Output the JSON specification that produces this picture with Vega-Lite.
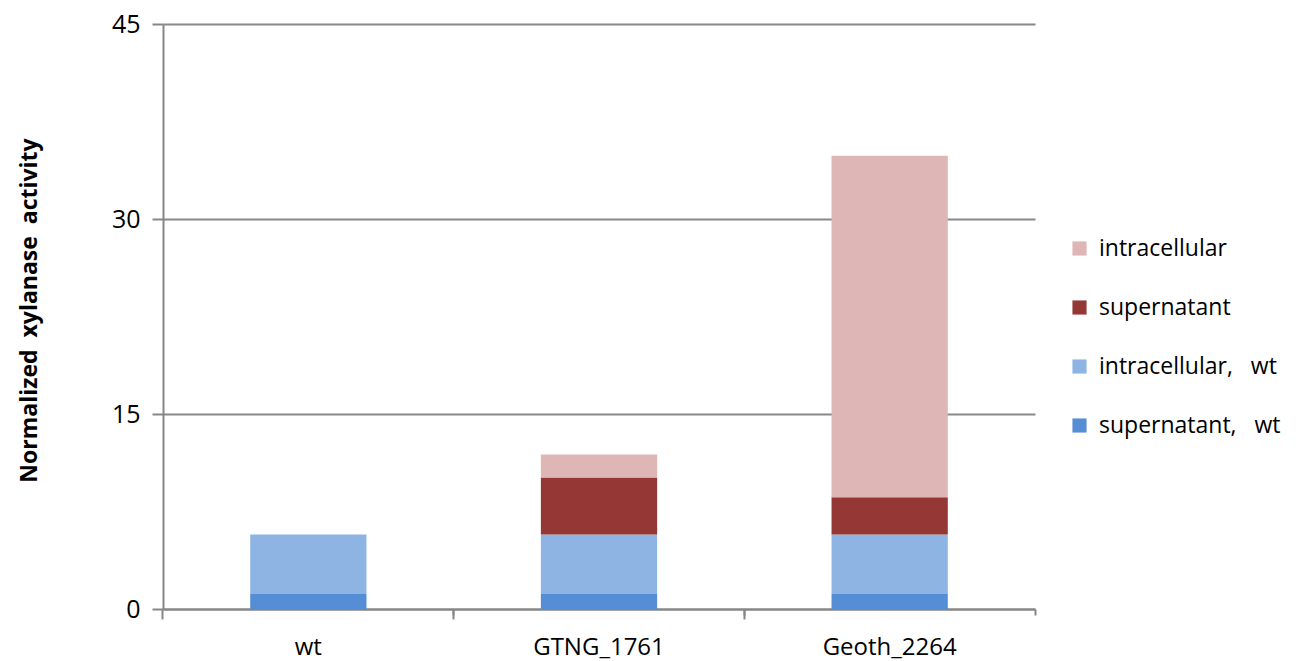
{
  "$schema": "https://vega.github.io/schema/vega-lite/v6.json",
  "width": 872,
  "height": 585,
  "autosize": "none",
  "padding": {"left": 163, "top": 24, "right": 268, "bottom": 52},
  "background": "white",
  "config": {
    "view": {"stroke": null},
    "font": "Open Sans"
  },
  "data": {
    "values": [
      {"strain": "wt", "component": "supernatant,\u00a0\u00a0 wt", "order": 1, "value": 1.15},
      {"strain": "wt", "component": "intracellular,\u00a0\u00a0 wt", "order": 2, "value": 4.59},
      {"strain": "GTNG_1761", "component": "supernatant,\u00a0\u00a0 wt", "order": 1, "value": 1.15},
      {"strain": "GTNG_1761", "component": "intracellular,\u00a0\u00a0 wt", "order": 2, "value": 4.59},
      {"strain": "GTNG_1761", "component": "supernatant", "order": 3, "value": 4.38},
      {"strain": "GTNG_1761", "component": "intracellular", "order": 4, "value": 1.77},
      {"strain": "Geoth_2264", "component": "supernatant,\u00a0\u00a0 wt", "order": 1, "value": 1.15},
      {"strain": "Geoth_2264", "component": "intracellular,\u00a0\u00a0 wt", "order": 2, "value": 4.59},
      {"strain": "Geoth_2264", "component": "supernatant", "order": 3, "value": 2.85},
      {"strain": "Geoth_2264", "component": "intracellular", "order": 4, "value": 26.28}
    ]
  },
  "resolve": {"axis": {"x": "independent"}},
  "layer": [
    {
      "mark": {"type": "bar"},
      "encoding": {
        "x": {
          "field": "strain", "type": "nominal",
          "sort": ["wt", "GTNG_1761", "Geoth_2264"],
          "scale": {"paddingInner": 0.6, "paddingOuter": 0.3},
          "axis": {
            "title": null, "labelAngle": 0, "labelFontSize": 24, "labelColor": "#000000",
            "labelPadding": 26, "ticks": false, "domain": true, "domainColor": "#868686", "domainWidth": 2
          }
        },
        "y": {
          "field": "value", "type": "quantitative", "stack": "zero",
          "scale": {"domain": [0, 45]},
          "axis": {
            "values": [0, 15, 30, 45],
            "title": "Normalized\u00a0 xylanase\u00a0 activity",
            "titleFontSize": 23, "titleFontWeight": "bold", "titleColor": "#000000",
            "titleX": -134, "titleY": 286, "titleAngle": -90, "titleAlign": "center", "titleBaseline": "middle",
            "labelFontSize": 25, "labelColor": "#000000", "labelPadding": 12,
            "domainColor": "#868686", "domainWidth": 2,
            "tickColor": "#868686", "tickWidth": 2, "tickSize": 11,
            "grid": true, "gridColor": "#888888", "gridWidth": 2
          }
        },
        "color": {
          "field": "component", "type": "nominal",
          "scale": {
            "domain": ["intracellular", "supernatant", "intracellular,\u00a0\u00a0 wt", "supernatant,\u00a0\u00a0 wt"],
            "range": ["#DEB6B5", "#953735", "#8EB4E3", "#558ED5"]
          },
          "legend": {
            "title": null, "orient": "none", "legendX": 905, "legendY": 213,
            "symbolType": "square", "symbolSize": 200, "symbolStrokeWidth": 0,
            "labelFontSize": 23, "labelColor": "#000000", "labelOffset": 8,
            "rowPadding": 35, "labelLimit": 300
          }
        },
        "order": {"field": "order", "type": "quantitative"}
      }
    },
    {
      "mark": {"type": "tick", "opacity": 0},
      "encoding": {
        "x": {
          "field": "strain", "type": "nominal",
          "sort": ["wt", "GTNG_1761", "Geoth_2264"],
          "axis": {
            "title": null, "labels": false, "domain": false, "orient": "bottom",
            "ticks": true, "bandPosition": 1.75, "tickColor": "#868686", "tickWidth": 2, "tickSize": 6
          }
        }
      }
    },
    {
      "mark": {"type": "tick", "opacity": 0},
      "encoding": {
        "x": {
          "field": "strain", "type": "nominal",
          "sort": ["wt", "GTNG_1761", "Geoth_2264"],
          "axis": {
            "title": null, "labels": false, "domain": false, "orient": "bottom",
            "ticks": true, "bandPosition": -0.75, "tickColor": "#868686", "tickWidth": 2, "tickSize": 10
          }
        }
      }
    }
  ]
}
